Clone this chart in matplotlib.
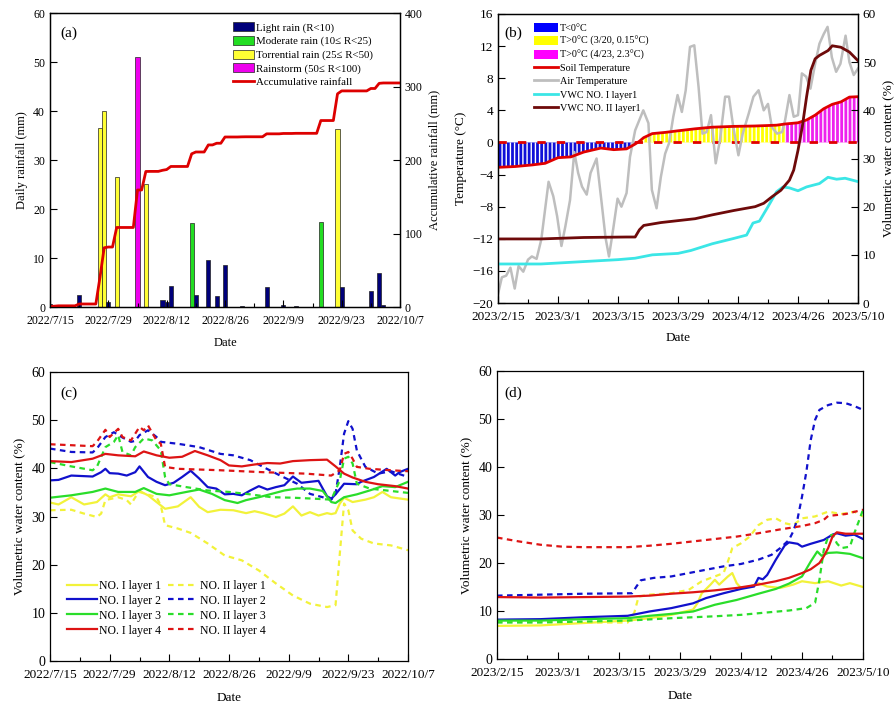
import numpy as np
import pandas as pd
import matplotlib
matplotlib.use('Agg')
import matplotlib.pyplot as plt
from matplotlib.patches import Patch
from matplotlib.lines import Line2D

plt.rcParams['font.family'] = ['Liberation Serif', 'DejaVu Serif']
plt.rcParams['xtick.direction'] = 'in'
plt.rcParams['ytick.direction'] = 'in'
plt.rcParams['axes.linewidth'] = 0.9
plt.rcParams['hatch.linewidth'] = 1.0

# ---------------- (a) daily rainfall, 2022 ----------------
start_2022 = '2022-07-15'
rain_days = [0, 1, 2, 7, 12, 13, 14, 16, 21, 23, 24, 27, 28, 29, 34, 35, 38, 40, 42,
             46, 47, 52, 56, 59, 65, 69, 70, 77, 79, 80]
rain_mm = [0.6, 0.5, 0.5, 2.5, 36.5, 40.0, 1.0, 26.6, 51.0, 25.2, 0.1, 1.5, 1.0, 4.2,
           17.2, 2.5, 9.6, 2.3, 8.5, 0.2, 0.1, 4.0, 0.5, 0.2, 17.4, 36.3, 4.0, 3.3, 7.0, 0.5]
rain_classes = ['Light rain (R<10)', 'Moderate rain (10\u2264 R<25)',
                'Torrential rain (25\u2264 R<50)', 'Rainstorm (50\u2264 R<100)']
rain_bounds = [10, 25, 50]

# ---------------- (b) temperature & VWC, 2023 ----------------
start_2023 = '2023-02-15'
soil_days = [0, 4, 8, 11, 14, 17, 20, 24, 27, 30, 32, 33, 34, 36, 39, 42, 46, 50, 55, 60,
             65, 67, 70, 72, 74, 76, 78, 80, 82, 84]
soil_temp = [-3.1, -3.0, -2.8, -2.6, -1.9, -1.8, -1.2, -0.7, -0.9, -0.8, -0.2, 0.15, 0.6,
             1.1, 1.25, 1.45, 1.7, 1.9, 2.0, 2.05, 2.15, 2.3, 2.45, 2.8, 3.4, 4.2, 4.75,
             5.05, 5.65, 5.7]
air_days = [0, 0.9, 1.9, 2.9, 3.9, 4.8, 5.9, 7.0, 7.9, 9.0, 10.1, 11.8, 12.9, 13.8, 14.8,
            15.7, 16.8, 17.8, 18.7, 19.6, 20.7, 21.6, 23.0, 24.2, 25.1, 25.9, 26.9, 27.9,
            28.8, 30.0, 30.8, 32.0, 33.9, 35.1, 35.9, 37.0, 38.0, 39.0, 39.9, 40.9, 41.9,
            42.9, 43.8, 44.8, 45.8, 46.8, 47.7, 48.7, 49.7, 50.8, 51.8, 53.0, 53.9, 54.9,
            56.1, 57.1, 58.5, 59.6, 60.8, 62.0, 63.0, 63.9, 65.1, 66.3, 67.0, 68.0, 69.0,
            70.0, 70.9, 71.9, 72.9, 74.0, 75.0, 76.0, 76.9, 77.9, 78.9, 79.9, 81.1, 82.0,
            83.0, 84.0]
air_temp = [-18.9, -16.8, -16.6, -15.6, -18.2, -15.4, -16.1, -14.6, -14.2, -14.5, -12.1,
            -4.9, -6.7, -9.2, -12.9, -10.5, -7.2, -1.2, -3.8, -5.5, -6.5, -3.8, -2.0, -7.6,
            -11.9, -14.2, -10.7, -7.0, -8.0, -6.3, -1.8, 1.5, 4.0, 2.4, -5.9, -8.2, -4.3,
            -1.4, -0.1, 3.2, 5.9, 3.8, 6.5, 11.9, 12.1, 6.9, 1.1, 1.3, 3.4, -2.6, 0.3, 5.7,
            5.7, 1.9, -1.6, 1.1, 3.6, 5.7, 6.5, 4.0, 4.8, 1.9, 1.1, 1.3, 2.8, 5.9, 3.2, 3.4,
            8.6, 8.2, 6.7, 9.8, 12.3, 13.5, 14.4, 10.6, 8.8, 9.8, 13.3, 10.0, 8.4, 9.2]
vwc1_days = [0, 10, 20, 28, 32, 36, 42, 45, 50, 55, 58, 59.5, 61, 63, 65, 66.5, 68, 70, 72,
             75, 77, 79, 81, 84]
vwc1_l1 = [8.1, 8.1, 8.6, 9.0, 9.3, 10.0, 10.3, 10.9, 12.3, 13.4, 14.1, 16.6, 17.0, 20.0,
           23.1, 24.1, 23.9, 23.3, 24.1, 24.8, 26.1, 25.7, 25.9, 25.2]
vwc2_days = [0, 10, 20, 30, 32, 33, 34, 38, 42, 46, 50, 55, 60, 62, 64, 66, 68, 69, 70, 71,
             72, 73, 74, 75, 77, 78, 80, 82, 84]
vwc2_l1 = [13.3, 13.3, 13.6, 13.7, 13.7, 15.2, 16.1, 16.7, 17.1, 17.5, 18.3, 19.2, 20.0,
           20.7, 22.1, 23.4, 25.5, 27.6, 31.7, 36.6, 42.8, 48.3, 50.7, 51.4, 52.4, 53.4,
           53.1, 52.1, 50.3]
thaw_day1 = 33   # 3/20
thaw_day2 = 67   # 4/23

# ---------------- (c) VWC 2022 ----------------
c_series = {
    'NO. I layer 1': ([0, 2, 5, 8, 11, 13, 14, 16, 19, 21, 23, 25, 27, 30, 33, 35, 37, 40, 43, 46,
                       48, 50, 53, 55, 57, 59, 61, 63, 65, 66, 67, 68, 69, 71, 74, 76, 78, 80, 84],
                      [32.9, 32.5, 34.0, 32.5, 33.0, 34.6, 34.0, 34.6, 34.2, 35.3, 34.4, 33.0, 31.6,
                       32.1, 34.0, 32.0, 30.9, 31.4, 31.3, 30.7, 31.1, 30.7, 29.9, 30.6, 32.1, 30.2,
                       30.9, 30.2, 30.7, 30.5, 30.7, 32.7, 33.9, 33.0, 33.5, 34.0, 35.1, 34.0, 33.5]),
    'NO. II layer 1': ([0, 5, 8, 11, 12, 13, 16, 18, 19, 20, 21, 25, 26, 27, 30, 33, 37, 41, 45, 49,
                        53, 57, 61, 65, 67, 68, 69, 70, 71, 73, 76, 80, 84],
                       [31.3, 31.4, 30.6, 29.9, 30.6, 33.4, 34.0, 33.4, 32.5, 34.0, 35.1, 34.0, 32.3,
                        28.2, 27.5, 26.6, 24.4, 21.9, 20.9, 18.8, 16.1, 13.6, 11.9, 11.2, 11.6, 22.3,
                        32.7, 31.3, 27.1, 25.4, 24.4, 24.0, 23.0]),
    'NO. I layer 2': ([0, 2, 5, 10, 12, 13, 14, 16, 18, 20, 21, 23, 25, 27, 29, 31, 33, 35, 37, 39,
                       41, 43, 45, 47, 49, 51, 53, 55, 57, 59, 61, 63, 65, 66, 67, 69, 72, 73, 76,
                       79, 80, 81, 82, 84],
                      [37.5, 37.6, 38.5, 38.3, 39.2, 39.9, 39.0, 38.9, 38.5, 39.2, 40.4, 38.2, 37.2,
                       36.5, 37.0, 38.2, 39.5, 37.9, 36.1, 35.8, 34.6, 34.7, 34.4, 35.4, 36.3, 35.6,
                       36.1, 36.5, 38.3, 37.0, 37.2, 37.4, 34.2, 33.7, 34.6, 36.8, 36.7, 37.2, 38.2,
                       39.9, 39.2, 38.5, 39.2, 39.9]),
    'NO. II layer 2': ([0, 5, 10, 11, 13, 15, 17, 19, 20, 21, 23, 25, 26, 30, 35, 40, 43, 47, 50, 54,
                        58, 61, 64, 66, 67, 68, 69, 70, 71, 72, 74, 77, 80, 84],
                       [44.1, 43.4, 43.3, 44.1, 46.5, 47.5, 46.4, 45.5, 45.7, 46.9, 47.9, 46.5, 45.5,
                        45.1, 44.4, 43.0, 42.7, 41.7, 40.3, 38.5, 36.8, 34.7, 34.0, 33.5, 34.7, 40.3,
                        47.2, 49.8, 48.2, 43.7, 40.3, 38.9, 39.4, 38.2]),
    'NO. I layer 3': ([0, 5, 10, 13, 16, 20, 22, 25, 28, 32, 35, 38, 41, 44, 46, 49, 52, 55, 58, 61,
                       64, 66, 67, 69, 72, 75, 78, 81, 84],
                      [33.9, 34.4, 35.1, 35.8, 35.1, 35.1, 35.9, 34.7, 34.4, 35.1, 35.6, 34.7, 33.4,
                       32.8, 33.4, 34.0, 34.7, 35.4, 35.8, 35.8, 35.3, 33.0, 32.8, 34.0, 34.6, 35.4,
                       36.3, 36.1, 37.2]),
    'NO. II layer 3': ([0, 5, 10, 11, 13, 15, 16, 17, 19, 20, 22, 24, 26, 27, 28, 32, 37, 42, 47, 52,
                        57, 62, 66, 68, 69, 70, 71, 72, 75, 80, 84],
                       [41.3, 40.4, 39.6, 40.3, 44.4, 45.5, 46.9, 43.4, 42.7, 44.4, 46.2, 45.8, 43.7,
                        38.2, 36.7, 36.1, 35.4, 35.1, 34.6, 34.0, 33.9, 33.7, 33.5, 37.5, 42.0, 42.4,
                        41.0, 36.8, 35.8, 35.3, 34.9]),
    'NO. I layer 4': ([0, 5, 10, 13, 16, 20, 22, 25, 28, 31, 34, 37, 40, 42, 45, 48, 51, 54, 57, 61,
                       65, 67, 69, 71, 74, 77, 81, 84],
                      [41.5, 41.3, 42.0, 43.0, 42.7, 42.5, 43.5, 42.7, 42.2, 42.4, 43.6, 42.7, 41.7,
                       40.6, 40.4, 40.8, 41.1, 41.0, 41.5, 41.7, 41.8, 40.4, 38.9, 38.1, 37.2, 36.7,
                       36.3, 35.8]),
    'NO. II layer 4': ([0, 5, 10, 11, 13, 14, 16, 17, 19, 20, 21, 22, 23, 25, 26, 27, 30, 40, 50, 60,
                        66, 68, 69, 70, 71, 72, 75, 80, 84],
                       [45.0, 44.8, 44.6, 45.5, 48.0, 46.5, 48.2, 46.5, 45.8, 47.2, 48.6, 47.9, 48.9,
                        45.8, 45.1, 40.3, 39.9, 39.6, 39.2, 38.9, 38.5, 39.6, 43.0, 43.4, 42.0, 40.3,
                        39.9, 39.6, 39.4]),
}

# ---------------- (d) VWC 2023 ----------------
d_series = {
    'NO. I layer 1': ([0, 10, 20, 30, 35, 40, 45, 46, 47, 49, 50, 51, 53, 54, 55, 56, 58, 60, 62, 65,
                       68, 70, 73, 76, 79, 81, 84],
                      [6.9, 7.0, 7.5, 8.0, 8.5, 9.2, 10.3, 11.6, 13.7, 15.5, 16.5, 15.5, 17.2, 17.9,
                       15.8, 14.8, 15.1, 15.8, 15.1, 14.8, 15.5, 16.2, 15.8, 16.2, 15.3, 15.8, 15.0]),
    'NO. II layer 1': ([0, 10, 20, 30, 31.5, 32.5, 35, 40, 44, 47, 50, 52, 53, 54, 56, 58, 60, 62, 64,
                        66, 68, 70, 73, 76, 79, 82, 84],
                       [7.8, 7.8, 7.6, 7.6, 9.6, 13.0, 13.4, 13.7, 14.4, 16.2, 17.2, 17.9, 20.3, 23.1,
                        24.1, 25.5, 27.9, 29.0, 29.3, 28.3, 27.9, 29.3, 29.7, 30.7, 30.2, 30.7, 29.7]),
    'NO. I layer 2': ([0, 10, 20, 30, 35, 40, 45, 48, 52, 56, 59, 60, 61, 62, 64, 66, 67, 69, 70, 72,
                       75, 77, 78, 80, 82, 84],
                      [8.2, 8.3, 8.7, 9.0, 9.9, 10.6, 11.6, 12.7, 13.7, 14.6, 15.1, 16.9, 16.6, 17.5,
                       20.7, 23.6, 24.3, 24.0, 23.4, 24.0, 24.8, 25.9, 26.2, 25.7, 25.9, 25.0]),
    'NO. II layer 2': ([0, 10, 20, 31, 32, 33, 36, 40, 44, 48, 52, 56, 60, 63, 65, 67, 68, 69, 70, 71,
                        72, 73, 74, 76, 78, 80, 82, 84],
                       [13.2, 13.4, 13.6, 13.7, 15.1, 16.4, 16.9, 17.2, 17.9, 18.6, 19.3, 19.8, 20.7,
                        21.7, 23.1, 24.8, 26.6, 29.3, 33.8, 39.0, 45.6, 49.8, 51.9, 52.9, 53.4, 53.3,
                        52.7, 51.9]),
    'NO. I layer 3': ([0, 10, 20, 30, 35, 40, 45, 50, 55, 60, 64, 67, 70, 72, 73.5, 74.5, 76, 78, 81, 84],
                      [8.0, 8.0, 8.3, 8.5, 9.0, 9.4, 9.9, 11.3, 12.3, 13.6, 14.6, 15.7, 17.2, 20.3,
                       22.4, 21.5, 22.1, 22.2, 21.9, 21.0]),
    'NO. II layer 3': ([0, 10, 20, 30, 40, 50, 56, 62, 67, 71, 73, 74, 75, 76, 77, 78, 79, 81, 82, 83, 84],
                       [7.6, 7.6, 7.8, 8.0, 8.5, 8.9, 9.2, 9.7, 10.1, 10.6, 11.7, 16.5, 22.7, 25.5,
                        25.9, 24.1, 23.1, 23.4, 26.2, 28.6, 31.1]),
    'NO. I layer 4': ([0, 10, 20, 30, 35, 40, 45, 50, 55, 60, 64, 67, 70, 72, 74, 75, 76, 77, 78, 80, 84],
                      [12.9, 12.8, 12.9, 13.0, 13.2, 13.6, 13.9, 14.3, 14.8, 15.5, 16.2, 16.9, 17.9,
                       18.7, 20.0, 21.4, 23.1, 25.5, 26.4, 26.1, 26.1]),
    'NO. II layer 4': ([0, 5, 10, 15, 20, 25, 30, 35, 40, 45, 50, 55, 60, 65, 70, 73, 75, 76, 80, 84],
                       [25.3, 24.5, 23.8, 23.4, 23.3, 23.3, 23.3, 23.6, 24.0, 24.5, 25.0, 25.5, 26.2,
                        27.0, 27.7, 28.3, 29.0, 29.8, 30.2, 31.1]),
}

layer_colors = {'1': '#F2F23A', '2': '#1111CC', '3': '#2ADD2A', '4': '#DD1414'}


def to_dates(start, days):
    return pd.Timestamp(start) + pd.to_timedelta(np.asarray(days, dtype=float), unit='D')


def date_axis(ax, start, fs):
    major = pd.date_range(start, periods=7, freq='14D')
    minor = pd.date_range(start, periods=13, freq='7D')
    ax.set_xlim(major[0], major[-1])
    ax.set_xticks(major)
    ax.set_xticklabels([f'{d.year}/{d.month}/{d.day}' for d in major], fontsize=fs)
    ax.set_xticks(minor, minor=True)
    ax.tick_params(axis='x', which='major', length=5, width=0.8, pad=6)
    ax.tick_params(axis='x', which='minor', length=3, width=0.8)
    ax.tick_params(axis='y', length=5, width=0.8)


fig = plt.figure(figsize=(8.95, 7.05), dpi=100)
W, H = 895, 705
ax_a = fig.add_axes([50 / W, 1 - 307 / H, 350 / W, 294 / H])
ax_b = fig.add_axes([498 / W, 1 - 303 / H, 360 / W, 289 / H])
ax_c = fig.add_axes([50 / W, 1 - 661 / H, 358 / W, 289 / H])
ax_d = fig.add_axes([497 / W, 1 - 659 / H, 366 / W, 288 / H])

# ---------- (a) ----------
bar_colors = ['#00007A', '#22DD22', '#FFFF33', '#EE00EE']
cls = np.digitize(rain_mm, rain_bounds)
rain_dates = to_dates(start_2022, rain_days)
ax_a.bar(rain_dates, rain_mm, width=1.0, color=[bar_colors[k] for k in cls],
         edgecolor='#222222', linewidth=0.5)
ax_a.set_ylim(0, 60)
ax_a.set_yticks(range(0, 61, 10))
ax_a.tick_params(axis='y', labelsize=8.5)
date_axis(ax_a, start_2022, 8.5)
ax_a.set_ylabel('Daily rainfall (mm)', fontsize=9)
ax_a.set_xlabel('Date', fontsize=9, labelpad=7)

daily = np.zeros(85)
daily[rain_days] = rain_mm
ax_a2 = ax_a.twinx()
ax_a2.plot(to_dates(start_2022, np.arange(85)), np.cumsum(daily), color='#DD0000', lw=2)
ax_a2.set_ylim(0, 400)
ax_a2.set_yticks(range(0, 401, 100))
ax_a2.tick_params(axis='y', labelsize=8.5, direction='in', length=5)
ax_a2.set_ylabel('Accumulative rainfall (mm)', fontsize=9)
ax_a.text(0.03, 0.932, '(a)', transform=ax_a.transAxes, fontsize=11, va='center')

handles_a = [Patch(facecolor=c, edgecolor='#222222', linewidth=0.5) for c in bar_colors]
handles_a.append(Line2D([], [], color='#DD0000', lw=2))
ax_a2.legend(handles_a, rain_classes + ['Accumulative rainfall'], loc='upper left',
             bbox_to_anchor=(0.5, 0.995), frameon=False, fontsize=7.8, borderpad=0.2,
             labelspacing=0.3, handlelength=2.0, handleheight=0.9, handletextpad=0.2)

# ---------- (b) ----------
sd = to_dates(start_2023, soil_days)
sdays = np.array(soil_days)
seg_colors = ['#1010D8', '#FFFF00', '#EE22EE']
seg_masks = [sdays <= thaw_day1, (sdays >= thaw_day1) & (sdays <= thaw_day2), sdays >= thaw_day2]
for col, m in zip(seg_colors, seg_masks):
    ax_b.fill_between(sd, soil_temp, 0, where=m, facecolor=col, edgecolor='white',
                      hatch='||||', linewidth=0)
ax_b.plot(to_dates(start_2023, [0, 84]), [0, 0], color='#E00000', lw=2, ls=(0, (3, 4)))
ax_b.plot(to_dates(start_2023, air_days), air_temp, color='#BEBEBE', lw=1.8)
ax_b.plot(sd, soil_temp, color='#E00000', lw=2)
ax_b.set_ylim(-20, 16)
ax_b.set_yticks(range(-20, 17, 4))
ax_b.tick_params(axis='y', labelsize=9.5)
date_axis(ax_b, start_2023, 9.5)
ax_b.set_ylabel('Temperature (\u00b0C)', fontsize=9.5)
ax_b.set_xlabel('Date', fontsize=9.5, labelpad=6)
ax_b.text(0.017, 0.934, '(b)', transform=ax_b.transAxes, fontsize=11, va='center')

ax_b2 = ax_b.twinx()
ax_b2.plot(to_dates(start_2023, vwc1_days), vwc1_l1, color='#3BE6E6', lw=2)
ax_b2.plot(to_dates(start_2023, vwc2_days), vwc2_l1, color='#6E0A0A', lw=2)
ax_b2.set_ylim(0, 60)
ax_b2.set_yticks(range(0, 61, 10))
ax_b2.tick_params(axis='y', labelsize=9.5, direction='in', length=5)
ax_b2.set_ylabel('Volumetric water content (%)', fontsize=9.5)

handles_b = [Patch(facecolor='#0000FF'), Patch(facecolor='#FFFF00'), Patch(facecolor='#FF00FF'),
             Line2D([], [], color='#E00000', lw=2), Line2D([], [], color='#BEBEBE', lw=2),
             Line2D([], [], color='#3BE6E6', lw=2), Line2D([], [], color='#6E0A0A', lw=2)]
labels_b = ['T<0\u00b0C', 'T>0\u00b0C (3/20, 0.15\u00b0C)', 'T>0\u00b0C (4/23, 2.3\u00b0C)',
            'Soil Temperature', 'Air Temperature', 'VWC NO. I layer1', 'VWC NO. II layer1']
ax_b2.legend(handles_b, labels_b, loc='upper left', bbox_to_anchor=(0.08, 0.995),
             frameon=False, fontsize=7.3, borderpad=0.2, labelspacing=0.33,
             handlelength=2.4, handleheight=1.0, handletextpad=0.2)


# ---------- (c) & (d) ----------
def vwc_panel(ax, series, start, tag, tag_pos):
    for name, (days, vals) in series.items():
        ls = '-' if name.startswith('NO. I ') else (0, (2.5, 2))
        ax.plot(to_dates(start, days), vals, color=layer_colors[name[-1]], lw=1.6, ls=ls,
                label=name)
    ax.set_ylim(0, 60)
    ax.set_yticks(range(0, 61, 10))
    ax.tick_params(axis='y', labelsize=10)
    date_axis(ax, start, 9.5)
    ax.set_ylabel('Volumetric water content (%)', fontsize=9.5)
    ax.set_xlabel('Date', fontsize=9.5, labelpad=8)
    ax.text(tag_pos[0], tag_pos[1], tag, transform=ax.transAxes, fontsize=11, va='center')


vwc_panel(ax_c, c_series, start_2022, '(c)', (0.028, 0.927))
vwc_panel(ax_d, d_series, start_2023, '(d)', (0.019, 0.924))

h_c, l_c = ax_c.get_legend_handles_labels()
order = [0, 2, 4, 6, 1, 3, 5, 7]
ax_c.legend([h_c[i] for i in order], [l_c[i] for i in order], ncol=2, loc='upper left',
            bbox_to_anchor=(0.025, 0.31), frameon=False, fontsize=8.5, borderpad=0.2,
            labelspacing=0.25, handlelength=2.5, handletextpad=0.2, columnspacing=0.6)

fig.savefig('out.png', dpi=100)
